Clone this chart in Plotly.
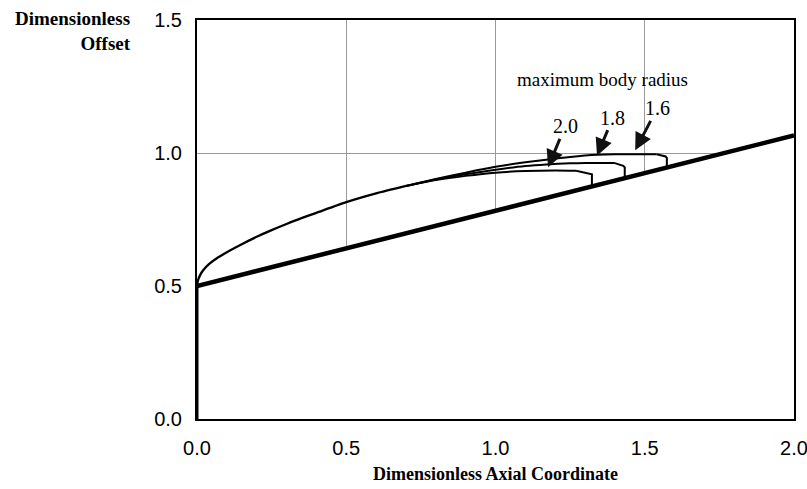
import plotly.graph_objects as go

# ---- data ----
x_common = [0.0, 0.003, 0.01, 0.02, 0.04, 0.07, 0.1, 0.15, 0.2, 0.25, 0.3,
            0.35, 0.4, 0.5, 0.6, 0.7]
y_common = [0.5, 0.52, 0.54, 0.558, 0.582, 0.607, 0.627, 0.657, 0.685, 0.71, 0.733,
            0.755, 0.775, 0.815, 0.848, 0.876]

# smooth part of each body after the common forebody
x_r20 = [0.7, 0.8, 0.9, 1.0, 1.1, 1.2, 1.27]
y_r20 = [0.876, 0.898, 0.914, 0.926, 0.932, 0.934, 0.933]
x_r18 = [0.7, 0.8, 0.9, 1.0, 1.1, 1.17, 1.25, 1.3, 1.40]
y_r18 = [0.876, 0.90, 0.92, 0.937, 0.951, 0.957, 0.961, 0.962, 0.962]
x_r16 = [0.7, 0.8, 0.9, 1.0, 1.1, 1.17, 1.25, 1.34, 1.4, 1.54]
y_r16 = [0.876, 0.902, 0.926, 0.948, 0.965, 0.975, 0.985, 0.993, 0.995, 0.995]

# base shoulder of each body down to the ray
x_base20 = [1.27, 1.285, 1.30, 1.315, 1.323, 1.323]
y_base20 = [0.933, 0.929, 0.925, 0.923, 0.92, 0.874]
x_base18 = [1.40, 1.415, 1.428, 1.433, 1.433]
y_base18 = [0.962, 0.957, 0.952, 0.946, 0.906]
x_base16 = [1.54, 1.556, 1.57, 1.574, 1.574]
y_base16 = [0.995, 0.99, 0.987, 0.982, 0.945]

ray_x = [0.0, 2.0]
ray_y = [0.5, 1.066]

radius_labels = ["2.0", "1.8", "1.6"]
arrow_tip_x = [1.176, 1.34, 1.468]
arrow_tip_y = [0.946, 0.99, 1.01]

x_ticks = [0.0, 0.5, 1.0, 1.5, 2.0]
y_ticks = [0.0, 0.5, 1.0, 1.5]

SERIF = "Liberation Serif, Times New Roman, serif"
SANS = "Liberation Sans, Arial, sans-serif"

fig = go.Figure()

# cone ray with white fill below (hides gridlines under it)
fig.add_trace(go.Scatter(x=ray_x, y=ray_y, mode="lines", fill="tozeroy",
                         fillcolor="white", line=dict(color="black", width=4.5),
                         showlegend=False, hoverinfo="skip"))
# left wall from 0 up to the ray start, thicker
fig.add_trace(go.Scatter(x=[0.0, 0.0], y=[0.0, ray_y[0]], mode="lines",
                         line=dict(color="black", width=3), showlegend=False))

# common forebody part (smooth)
fig.add_trace(go.Scatter(x=x_common, y=y_common, mode="lines",
                         line=dict(color="black", width=2.3, shape="spline", smoothing=0.6),
                         showlegend=False))
for xs, ys in [(x_r20, y_r20), (x_r18, y_r18), (x_r16, y_r16)]:
    fig.add_trace(go.Scatter(x=xs, y=ys, mode="lines",
                             line=dict(color="black", width=2, shape="spline", smoothing=0.6),
                             showlegend=False))
for xs, ys in [(x_base20, y_base20), (x_base18, y_base18), (x_base16, y_base16)]:
    fig.add_trace(go.Scatter(x=xs, y=ys, mode="lines",
                             line=dict(color="black", width=2), showlegend=False))

offsets = [(17, -41), (16, -38), (22, -42)]
for lab, tx, ty, (ax, ay) in zip(radius_labels, arrow_tip_x, arrow_tip_y, offsets):
    fig.add_annotation(x=tx, y=ty, xref="x", yref="y", text=lab, showarrow=True,
                       ax=ax, ay=ay, arrowhead=2, arrowsize=1.15, arrowwidth=3,
                       arrowcolor="#111", standoff=0,
                       font=dict(family=SERIF, size=20, color="black"))

fig.add_annotation(x=1.36, y=1.277, xref="x", yref="y", text="maximum body radius",
                   showarrow=False, font=dict(family=SERIF, size=19, color="black"))

fig.add_annotation(xref="paper", yref="paper", x=-0.107, y=1.035, xanchor="right",
                   yanchor="top", align="right",
                   text="<b>Dimensionless<br>Offset</b>", showarrow=False,
                   font=dict(family=SERIF, size=19, color="black"))

fig.update_xaxes(range=[0, 2.0], tickvals=x_ticks, ticktext=[f"{v:.1f}" for v in x_ticks],
                 showgrid=True, gridcolor="#9a9a9a", gridwidth=1,
                 showline=True, linecolor="black", linewidth=2, mirror=True,
                 zeroline=False, ticks="", ticklabelstandoff=10, automargin=False,
                 ticklabeloverflow="allow",
                 tickfont=dict(family=SANS, size=20, color="black"),
                 title=dict(text="<b>Dimensionless Axial Coordinate</b>", standoff=9,
                            font=dict(family=SERIF, size=18, color="black")))
fig.update_yaxes(range=[0, 1.5], tickvals=y_ticks, ticktext=[f"{v:.1f}" for v in y_ticks],
                 showgrid=True, gridcolor="#9a9a9a", gridwidth=1,
                 showline=True, linecolor="black", linewidth=2, mirror=True,
                 zeroline=False, ticks="", ticklabelstandoff=9, automargin=False,
                 ticklabeloverflow="allow",
                 tickfont=dict(family=SANS, size=20, color="black"))

fig.update_layout(width=807, height=489, plot_bgcolor="white", paper_bgcolor="white",
                  margin=dict(l=197, r=13, t=20, b=70), showlegend=False)

fig.write_html("out.html", config={"displayModeBar": False},
               post_script="document.body.style.margin='0px';")
